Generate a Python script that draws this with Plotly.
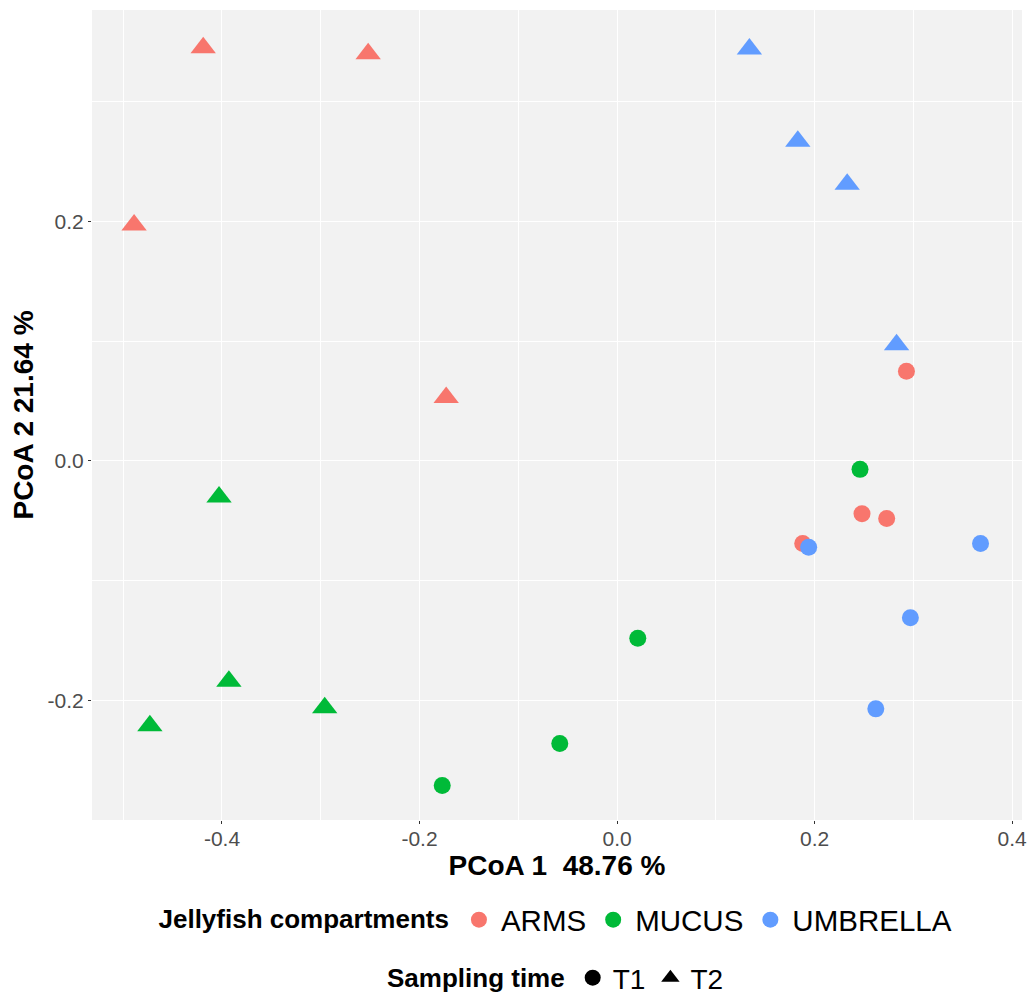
import plotly.graph_objects as go

groups = ["ARMS", "MUCUS", "UMBRELLA"]
times = ["T1", "T2"]
colors = {"ARMS": "#F8766D", "MUCUS": "#00BA38", "UMBRELLA": "#619CFF"}

arms_t1_x = [0.293, 0.248, 0.273, 0.188]
arms_t1_y = [0.075, -0.044, -0.048, -0.069]
arms_t2_x = [-0.419, -0.252, -0.489, -0.173]
arms_t2_y = [0.345, 0.340, 0.197, 0.053]
mucus_t1_x = [0.246, 0.021, -0.058, -0.177]
mucus_t1_y = [-0.007, -0.148, -0.236, -0.271]
mucus_t2_x = [-0.403, -0.393, -0.473, -0.296]
mucus_t2_y = [-0.030, -0.184, -0.221, -0.206]
umb_t1_x = [0.194, 0.368, 0.297, 0.262]
umb_t1_y = [-0.072, -0.069, -0.131, -0.207]
umb_t2_x = [0.134, 0.183, 0.233, 0.283]
umb_t2_y = [0.344, 0.267, 0.231, 0.097]

data = {
    ("ARMS", "T1"): (arms_t1_x, arms_t1_y),
    ("ARMS", "T2"): (arms_t2_x, arms_t2_y),
    ("MUCUS", "T1"): (mucus_t1_x, mucus_t1_y),
    ("MUCUS", "T2"): (mucus_t2_x, mucus_t2_y),
    ("UMBRELLA", "T1"): (umb_t1_x, umb_t1_y),
    ("UMBRELLA", "T2"): (umb_t2_x, umb_t2_y),
}

x_title = "PCoA 1  48.76 %"
y_title = "PCoA 2 21.64 %"
x_ticks = [-0.4, -0.2, 0.0, 0.2, 0.4]
x_ticklabels = ["-0.4", "-0.2", "0.0", "0.2", "0.4"]
y_ticks = [-0.2, 0.0, 0.2]
y_ticklabels = ["-0.2", "0.0", "0.2"]

symbols = {"T1": "circle", "T2": "triangle-up"}
sizes = {"T1": 17, "T2": 22}

fig = go.Figure()
for g in groups:
    for t in times:
        xs, ys = data[(g, t)]
        fig.add_trace(go.Scatter(
            x=xs, y=ys, mode="markers", showlegend=False,
            marker=dict(color=colors[g], symbol=symbols[t], size=sizes[t], line=dict(width=0)),
        ))

# legend entries
for g in groups:
    fig.add_trace(go.Scatter(x=[None], y=[None], mode="markers", name=g, legend="legend",
                             marker=dict(color=colors[g], symbol="circle", size=16)))
for t in times:
    fig.add_trace(go.Scatter(x=[None], y=[None], mode="markers", name=t, legend="legend2",
                             marker=dict(color="black", symbol=symbols[t], size=16)))

font_main = "Liberation Sans"
fig.update_layout(
    width=1027, height=986,
    margin=dict(l=84, r=13, t=2, b=174, autoexpand=False),
    paper_bgcolor="white",
    plot_bgcolor="#F2F2F2",
    font=dict(family=font_main, color="black"),
    xaxis=dict(
        range=[-0.5316, 0.410], tickvals=x_ticks, ticktext=x_ticklabels,
        showgrid=True, gridcolor="white", gridwidth=1.2, zeroline=False,
        minor=dict(showgrid=True, gridcolor="white", gridwidth=0.6, dtick=0.1, tick0=0.1),
        ticks="outside", ticklen=3, tickcolor="#333333", tickwidth=1,
        ticklabelstandoff=-3,
        tickfont=dict(size=21, color="#4D4D4D", family=font_main),
        title=dict(text="<b>" + x_title + "</b>", font=dict(size=28, family=font_main), standoff=4),
        showline=False,
    ),
    yaxis=dict(
        range=[-0.2998, 0.3766], tickvals=y_ticks, ticktext=y_ticklabels,
        showgrid=True, gridcolor="white", gridwidth=1.2, zeroline=False,
        minor=dict(showgrid=True, gridcolor="white", gridwidth=0.6, dtick=0.1, tick0=0.1),
        ticks="outside", ticklen=3, tickcolor="#333333", tickwidth=1,
        tickfont=dict(size=21, color="#4D4D4D", family=font_main),
        title=dict(text="<b>" + y_title + "</b>", font=dict(size=28, family=font_main), standoff=6),
        showline=False,
    ),
    legend=dict(
        orientation="h", x=0.5, xanchor="center", y=-0.1235, yanchor="middle",
        title=dict(text="<b>Jellyfish compartments</b>", side="left", font=dict(size=26)),
        font=dict(size=29.5), bgcolor="rgba(0,0,0,0)", itemwidth=34,
    ),
    legend2=dict(
        orientation="h", x=0.5, xanchor="center", y=-0.195, yanchor="middle",
        title=dict(text="<b>Sampling time</b>", side="left", font=dict(size=26)),
        font=dict(size=28), bgcolor="rgba(0,0,0,0)", itemwidth=30,
    ),
)

fig.write_html("out.html")
